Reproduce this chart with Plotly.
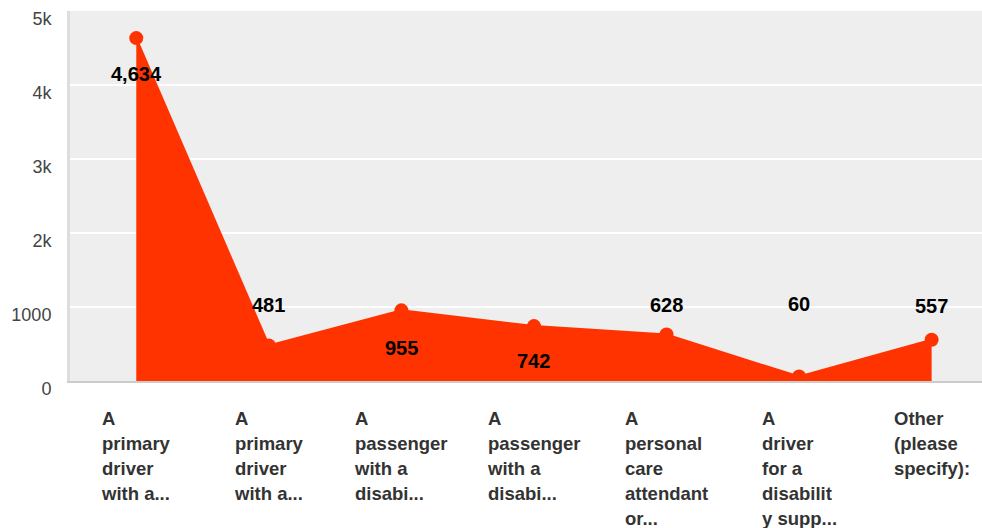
import plotly.graph_objects as go

categories = [
    ["A", "primary", "driver", "with a..."],
    ["A", "primary", "driver", "with a..."],
    ["A", "passenger", "with a", "disabi..."],
    ["A", "passenger", "with a", "disabi..."],
    ["A", "personal", "care", "attendant", "or..."],
    ["A", "driver", "for a", "disabilit", "y supp..."],
    ["Other", "(please", "specify):"],
]
values = [4634, 481, 955, 742, 628, 60, 557]
value_labels = ["4,634", "481", "955", "742", "628", "60", "557"]
y_tick_vals = [0, 1000, 2000, 3000, 4000, 5000]
y_tick_text = ["0", "1000", "2k", "3k", "4k", "5k"]

# style: pixel offsets of the value labels relative to their points
label_shifts = [-36, 40, -38, -35, 30, 73, 34]

COLOR = "#FF3300"
FONT = "Liberation Sans, Arial, sans-serif"

xs = list(range(len(values)))

fig = go.Figure()
fig.add_trace(go.Scatter(
    x=xs, y=values,
    mode="lines+markers",
    fill="tozeroy",
    fillcolor=COLOR,
    line=dict(color=COLOR, width=2),
    marker=dict(color=COLOR, size=14),
    hoverinfo="skip",
))

annotations = []
for i, (v, t, s) in enumerate(zip(values, value_labels, label_shifts)):
    annotations.append(dict(
        x=i, y=v, xref="x", yref="y", text=f"<b>{t}</b>", showarrow=False,
        yshift=s, font=dict(family=FONT, size=20, color="#000000"),
    ))
for i, lines in enumerate(categories):
    txt = "<br>".join(f'<span style="font-size:18.5px">{ln}</span>' for ln in lines)
    annotations.append(dict(
        x=i, y=0, xref="x", yref="paper", text=f"<b>{txt}</b>", showarrow=False,
        xanchor="center", yanchor="top", align="left", yshift=-25,
        font=dict(family=FONT, size=19.2, color="#333333"),
    ))

fig.update_layout(
    width=982, height=528,
    margin=dict(l=70, r=0, t=11, b=147),
    paper_bgcolor="#FFFFFF",
    plot_bgcolor="#EEEEEE",
    showlegend=False,
    annotations=annotations,
    xaxis=dict(
        range=[-0.5, 6.38], showticklabels=False, showgrid=False, zeroline=False,
        showline=True, linecolor="#CCCCCC", linewidth=2,
    ),
    yaxis=dict(
        range=[0, 5000], tickvals=y_tick_vals, ticktext=y_tick_text,
        showgrid=True, gridcolor="#FFFFFF", gridwidth=2, zeroline=False,
        showline=True, linecolor="#DDDDDD", linewidth=3,
        tickfont=dict(family=FONT, size=18, color="#444444"),
        ticklabelshift=8, ticklabelstandoff=12,
    ),
)

fig.write_html("out.html", config={"displayModeBar": False},
               post_script="document.body.style.margin='0';")
